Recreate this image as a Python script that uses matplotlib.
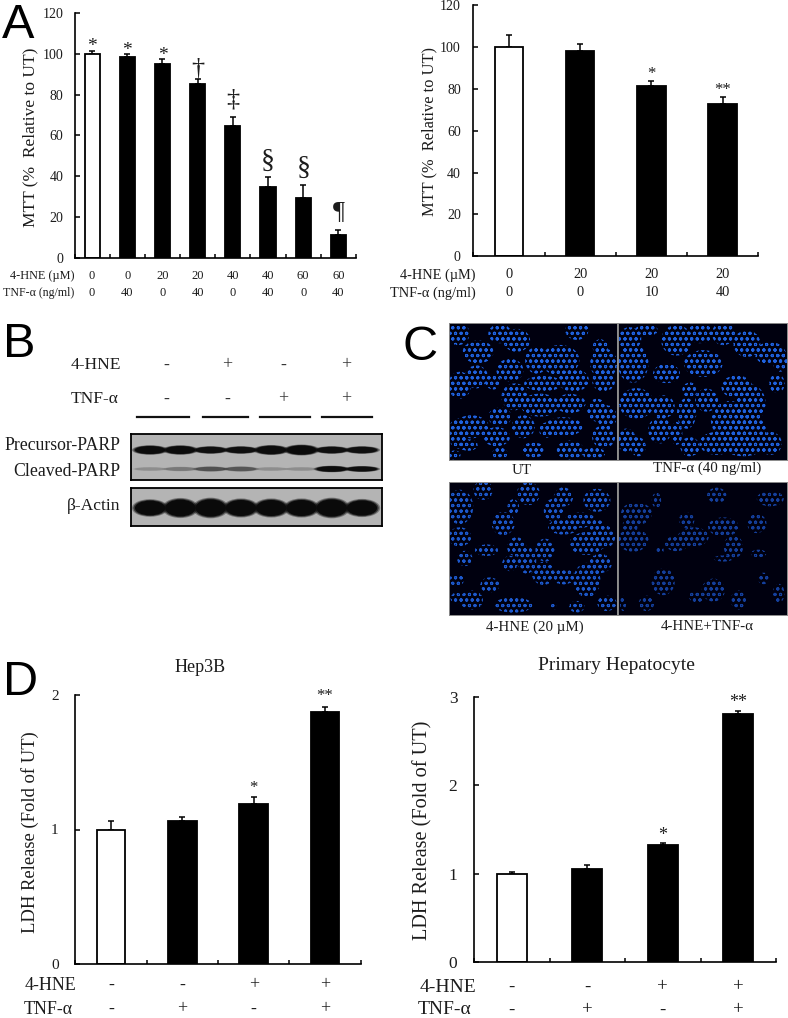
"""Four panel figure: MTT bars, PARP blot, nuclei micrographs, LDH bars."""
import matplotlib
matplotlib.use("Agg")
import matplotlib.pyplot as plt
from matplotlib.patches import Ellipse
from matplotlib.transforms import blended_transform_factory

plt.rcParams["font.family"] = ["Liberation Serif", "DejaVu Serif"]
plt.rcParams["hatch.linewidth"] = 0.75

W, H = 788, 1018
INK = "#1c1c1c"

# panel A, left
mtt_a_vals = [100, 98.5, 95, 85, 64.5, 35, 29.5, 11.5]
mtt_a_errs = [1.5, 1.2, 2.5, 2.5, 4.5, 4.5, 6.5, 2.5]
mtt_a_marks = ["*", "*", "*", "†", "‡", "§", "§", "¶"]
mtt_a_hne = ["0", "0", "20", "20", "40", "40", "60", "60"]
mtt_a_tnf = ["0", "40", "0", "40", "0", "40", "0", "40"]

# panel A, right
mtt_b_vals = [100, 98, 81.5, 72.5]
mtt_b_errs = [5.5, 3.5, 2, 3.5]
mtt_b_marks = ["", "", "*", "**"]
mtt_b_hne = ["0", "20", "20", "20"]
mtt_b_tnf = ["0", "0", "10", "40"]
mtt_ticks = [0, 20, 40, 60, 80, 100, 120]

# panel D
hep_vals = [1, 1.06, 1.19, 1.87]
hep_errs = [0.06, 0.035, 0.05, 0.04]
prim_vals = [1, 1.05, 1.32, 2.81]
prim_errs = [0.015, 0.05, 0.025, 0.025]
ldh_marks = ["", "", "*", "**"]
ldh_hne = ["-", "-", "+", "+"]
ldh_tnf = ["-", "+", "-", "+"]

# panel B, band strength per lane (0-1) and relative band size
blot_hne = ["-", "+", "-", "+"]
blot_tnf = ["-", "-", "+", "+"]
precursor_tone = [0.95, 0.95, 0.9, 0.9, 0.95, 1.0, 0.9, 0.9]
precursor_size = [1.0, 1.0, 0.8, 0.8, 1.05, 1.15, 0.8, 0.8]
cleaved_tone = [0.12, 0.2, 0.38, 0.35, 0.12, 0.12, 0.95, 0.92]
cleaved_size = [0.6, 0.7, 0.8, 0.8, 0.6, 0.6, 1.0, 0.9]
actin_tone = [1, 1, 1, 1, 1, 1, 1, 1]
actin_size = [0.92, 1.05, 1.08, 1.0, 1.0, 1.0, 1.08, 0.95]

# panel C, cell clumps: x, y, x radius, y radius
ut_clumps = [(175, 70, 30, 30), (235, 125, 40, 30), (300, 70, 30, 25), (350, 90, 35, 30),
             (410, 150, 30, 35), (480, 150, 50, 40), (530, 60, 30, 25), (610, 160, 35, 40),
             (600, 110, 20, 20), (180, 225, 30, 35), (230, 200, 30, 30), (330, 180, 35, 30),
             (345, 260, 35, 35), (280, 215, 20, 20), (430, 220, 50, 20), (520, 210, 40, 30),
             (610, 210, 30, 30), (420, 285, 50, 30), (510, 280, 40, 25), (590, 300, 25, 30),
             (620, 320, 25, 30), (215, 350, 45, 30), (175, 370, 25, 40), (300, 320, 30, 25),
             (290, 380, 35, 25), (370, 350, 30, 30), (490, 350, 50, 25), (440, 360, 20, 20),
             (510, 420, 35, 25), (610, 380, 30, 30), (205, 405, 25, 15), (400, 420, 30, 20),
             (580, 430, 30, 15), (165, 435, 15, 12), (300, 430, 20, 15)]
tnf_clumps = [(690, 85, 30, 30), (700, 160, 40, 50), (740, 60, 30, 15), (830, 90, 40, 40),
              (900, 70, 35, 25), (970, 70, 30, 30), (1040, 100, 35, 35), (1110, 130, 40, 30),
              (910, 160, 50, 35), (800, 190, 35, 25), (1130, 220, 20, 25), (1140, 150, 20, 30),
              (710, 280, 45, 40), (790, 290, 30, 30), (860, 310, 25, 40), (920, 270, 30, 30),
              (1010, 230, 40, 30), (1050, 280, 40, 50), (990, 330, 50, 50), (780, 360, 30, 35),
              (1040, 360, 50, 40), (680, 390, 25, 30), (715, 410, 20, 25), (870, 410, 25, 25),
              (950, 400, 45, 30), (1030, 410, 50, 25), (1110, 400, 30, 30), (870, 240, 20, 20),
              (830, 370, 15, 30)]
hne_clumps = [(180, 590, 35, 45), (250, 540, 25, 25), (385, 550, 30, 30), (490, 560, 25, 25),
              (590, 570, 35, 30), (310, 640, 30, 30), (340, 590, 15, 20), (460, 600, 25, 30),
              (540, 630, 40, 20), (490, 650, 40, 20), (180, 680, 30, 25), (260, 720, 30, 15),
              (350, 710, 25, 25), (435, 720, 25, 30), (560, 700, 45, 30), (610, 680, 30, 30),
              (590, 650, 20, 20), (195, 745, 20, 20), (330, 760, 20, 20), (380, 750, 25, 35),
              (600, 760, 30, 25), (430, 790, 30, 30), (490, 800, 30, 20), (560, 810, 35, 45),
              (170, 810, 20, 15), (270, 825, 25, 20), (215, 870, 30, 25), (340, 885, 50, 20),
              (170, 865, 15, 15), (530, 890, 20, 15), (620, 880, 25, 20), (460, 890, 8, 8)]
both_clumps = [(710, 610, 40, 30), (700, 690, 40, 30), (690, 650, 20, 20), (770, 570, 12, 20),
               (830, 700, 30, 20), (860, 630, 20, 20), (880, 680, 40, 25), (950, 555, 25, 20),
               (1110, 565, 35, 20), (970, 650, 40, 25), (1000, 710, 25, 30), (1070, 640, 25, 25),
               (970, 745, 25, 8), (1075, 730, 20, 10), (790, 815, 30, 35), (1090, 805, 15, 15),
               (940, 840, 30, 30), (890, 860, 20, 15), (1015, 870, 20, 25), (740, 880, 20, 20),
               (1135, 850, 15, 25), (670, 880, 8, 20), (780, 720, 10, 10)]

fig = plt.figure(figsize=(W / 100, H / 100), dpi=100, facecolor="white")


def axes_px(x0, y0, x1, y1):
    # y0 is the top edge, in image pixels
    return fig.add_axes([x0 / W, 1 - y1 / H, (x1 - x0) / W, (y1 - y0) / H])


def txt(x, y, s, size=10, ha="center", **kw):
    kw.setdefault("color", INK)
    fig.text(x / W, 1 - y / H, s, fontsize=size, ha=ha, va="center", **kw)


def bar_panel(box, vals, errs, ymax, ticks, width, marks, tick_size, pad, mark_size, mark_pad):
    ax = axes_px(*box)
    n = len(vals)
    xs = list(range(n))
    colors = ["white"] + ["black"] * (n - 1)
    ax.bar(xs, vals, width=width, color=colors, edgecolor="black", linewidth=1.3, zorder=2)
    ax.errorbar(xs, vals, yerr=[[0] * n, errs], fmt="none", ecolor="black",
                elinewidth=1.1, capsize=2.4, capthick=1.1, zorder=1)
    ax.set_xlim(-0.5, n - 0.5)
    ax.set_ylim(0, ymax)
    ax.set_yticks(ticks)
    ax.set_xticks([i - 0.5 for i in range(n + 1)])
    ax.set_xticklabels([])
    ax.tick_params(axis="y", direction="in", length=3.5, width=1.1, labelsize=tick_size,
                   pad=pad, labelcolor=INK)
    ax.tick_params(axis="x", direction="in", length=3, width=1.1)
    ax.spines["top"].set_visible(False)
    ax.spines["right"].set_visible(False)
    ax.spines["left"].set_linewidth(1.2)
    ax.spines["bottom"].set_linewidth(1.2)
    ax.patch.set_alpha(0)
    for x, v, e, m in zip(xs, vals, errs, marks):
        if m:
            size = mark_size[m] if isinstance(mark_size, dict) else mark_size
            ax.text(x, v + e + mark_pad.get(m, 0) * ymax, m, fontsize=size, ha="center",
                    va="bottom", color=INK, clip_on=False)
    return ax


def rows(ax, row_y, row_vals, size):
    trans = blended_transform_factory(ax.transData, fig.transFigure)
    for x, v in enumerate(row_vals):
        ax.text(x, 1 - row_y / H, v, transform=trans, fontsize=size, ha="center",
                va="center", color=INK)


# panel A
a_sizes = {"*": 14, "†": 19, "‡": 19, "§": 20, "¶": 19}
a_pads = {"*": -0.02, "†": 0.0, "‡": 0.025, "§": 0.015, "¶": 0.028}
ax = bar_panel((74.5, 12.7, 356, 258.3), mtt_a_vals, mtt_a_errs, 120, mtt_ticks, 0.43,
               mtt_a_marks, 10, 8, a_sizes, a_pads)
rows(ax, 276, mtt_a_hne, 9)
rows(ax, 293, mtt_a_tnf, 9)
txt(74, 276, "4-HNE (µM)", 8.8, ha="right")
txt(74, 293, "TNF-α (ng/ml)", 8.6, ha="right")
txt(30, 137, "MTT (%  Relative to UT)", 12.5, rotation=90)

ax = bar_panel((473.3, 5, 758.3, 256.3), mtt_b_vals, mtt_b_errs, 120, mtt_ticks, 0.4,
               mtt_b_marks, 10, 9, 12, {"*": -0.003, "**": -0.003})
rows(ax, 275, mtt_b_hne, 10.4)
rows(ax, 293, mtt_b_tnf, 10.4)
txt(476, 275, "4-HNE (µM)", 10.4, ha="right")
txt(476, 293, "TNF-α (ng/ml)", 10.4, ha="right")
txt(429, 132, "MTT (%  Relative to UT)", 11.8, rotation=90)

# panel B
label_x = [166, 227, 283, 346]
for x, h, t in zip(label_x, blot_hne, blot_tnf):
    txt(x, 365, h, 13, color="#333333")
    txt(x, 399, t, 13, color="#333333")
for x0, x1 in [(137, 189), (203, 248), (260, 310), (322, 372)]:
    fig.add_artist(plt.Line2D([x0 / W, x1 / W], [1 - 416.7 / H] * 2, color="#111111", lw=1.6))
txt(121, 365, "4-HNE", 12.6, ha="right")
txt(119, 399, "TNF-α", 12.6, ha="right")
txt(120, 445, "Precursor-PARP", 12.8, ha="right")
txt(120, 472, "Cleaved-PARP", 12.8, ha="right")
txt(120, 506, "β-Actin", 12.6, ha="right")


def blot_box(box, bands):
    ax = axes_px(*box)
    ax.set_xlim(-0.64, 7.66)
    ax.set_ylim(box[3] - box[1], 0)
    ax.set_facecolor("#b4b4b4")
    ax.set_xticks([])
    ax.set_yticks([])
    for s in ax.spines.values():
        s.set_linewidth(1.3)
    for yc, height, tones, sizes in bands:
        for lane, (tone, size) in enumerate(zip(tones, sizes)):
            # stacked ellipses give the band a soft rim
            for grow, alpha in [(1.2, 0.35), (1.1, 0.6), (1.0, 1.0)]:
                ax.add_patch(Ellipse((lane, yc), 1.0 * grow, height * size * grow,
                                     facecolor="#0a0a0a", edgecolor="none", alpha=alpha * tone))


blot_box((130.7, 434, 382, 480), [(16, 8, precursor_tone, precursor_size),
                                  (35, 5.5, cleaved_tone, cleaved_size)])
blot_box((130.7, 488, 382, 526), [(20, 16, actin_tone, actin_size)])


# panel C
def micrograph(box, xlim, ylim, clumps, color):
    ax = axes_px(*box)
    ax.set_xlim(*xlim)
    ax.set_ylim(*ylim)
    ax.set_facecolor("#00000f")
    ax.set_xticks([])
    ax.set_yticks([])
    for s in ax.spines.values():
        s.set_color("#8a8a8a")
        s.set_linewidth(0.7)
    for cx, cy, rx, ry in clumps:
        ax.add_patch(Ellipse((cx, cy), 2.3 * rx, 2.3 * ry, facecolor="none", edgecolor=color,
                             hatch="ooo", linewidth=0))


micrograph((449, 323, 617, 460), (148, 650), (450, 38), ut_clumps, "#1f62e0")
micrograph((618, 323, 787, 460), (655, 1160), (450, 38), tnf_clumps, "#1f62e0")
micrograph((449, 482, 617, 615), (148, 650), (915, 515), hne_clumps, "#1c58cc")
micrograph((618, 482, 787, 615), (655, 1160), (915, 515), both_clumps, "#143f9c")
txt(522, 470, "UT", 10.8)
txt(707, 468, "TNF-α (40 ng/ml)", 10.8)
txt(535, 627, "4-HNE (20 µM)", 10.8)
txt(707, 627, "4-HNE+TNF-α", 10.8)

# panel D
ax = bar_panel((75.3, 695, 360.7, 964), hep_vals, hep_errs, 2, [0, 1, 2], 0.4,
               ldh_marks, 11, 12, 12, {"*": 0.004, "**": 0.011})
rows(ax, 985, ldh_hne, 13)
rows(ax, 1009, ldh_tnf, 13)
txt(76, 985, "4-HNE", 13, ha="right")
txt(73, 1009, "TNF-α", 13, ha="right")
txt(30, 832, "LDH Release (Fold of UT)", 13.4, rotation=90)
txt(200, 667, "Hep3B", 13)

ax = bar_panel((474, 696.7, 776, 962), prim_vals, prim_errs, 3, [0, 1, 2, 3], 0.4,
               ldh_marks, 12.5, 12, 13, {"*": -0.004, "**": 0.0})
rows(ax, 987, ldh_hne, 13.5)
rows(ax, 1010, ldh_tnf, 13.5)
txt(476, 987, "4-HNE", 14, ha="right")
txt(471, 1010, "TNF-α", 14, ha="right")
txt(423, 830, "LDH Release (Fold of UT)", 14.6, rotation=90)
txt(616, 666, "Primary Hepatocyte", 14)

# panel letters
for x, y, s in [(2, 38, "A"), (3, 357, "B"), (403, 360, "C"), (3, 695, "D")]:
    fig.text(x / W, 1 - y / H, s, fontsize=35, family="Liberation Sans", color="black",
             ha="left", va="baseline")

fig.savefig("out.png", dpi=100)
